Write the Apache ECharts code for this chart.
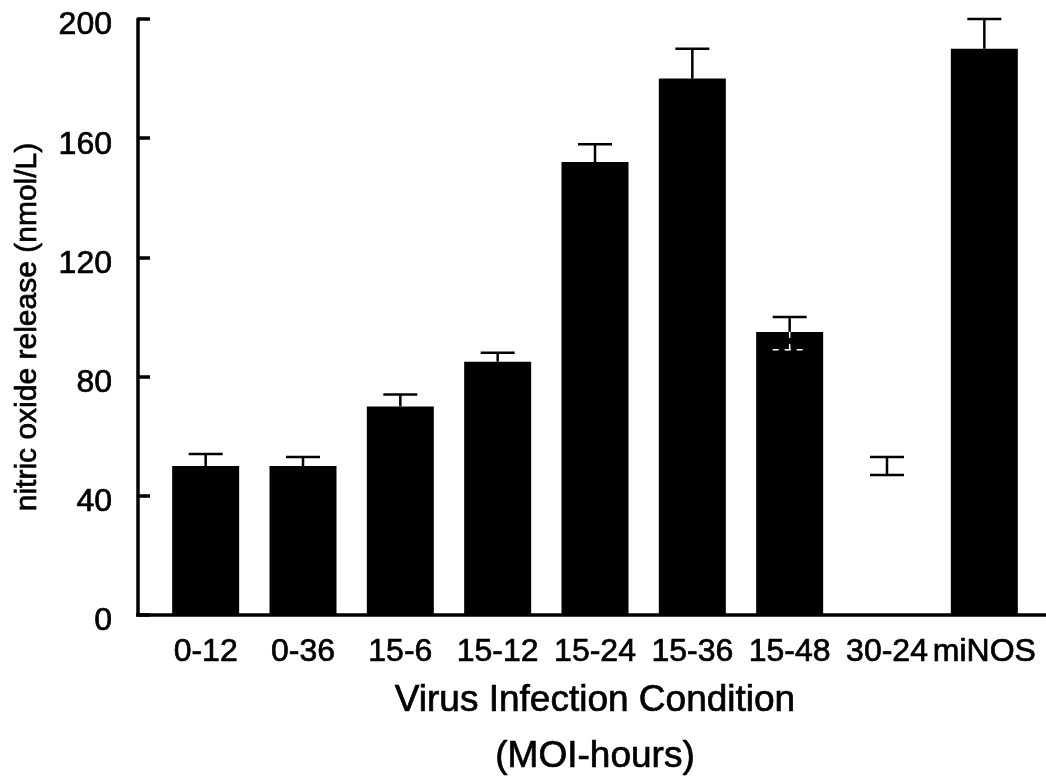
<!DOCTYPE html>
<html>
<head>
<meta charset="utf-8">
<script src="https://cdn.jsdelivr.net/npm/echarts@6/dist/echarts.min.js"></script>
<style>
  html, body { margin: 0; padding: 0; background: #fff; }
  #chart { width: 1046px; height: 783px; }
</style>
</head>
<body>
<div id="chart"></div>
<script>
// values (nmol/L)
const categories = ['0-12', '0-36', '15-6', '15-12', '15-24', '15-36', '15-48', '30-24', 'miNOS'];
const means = [50, 50, 70, 85, 152, 180, 95, 50, 190];
const errHigh = [54, 53, 74, 88, 158, 190, 100, 53, 200];
const errLow = [null, null, null, null, null, null, 89, 47, null];
const yTicks = [0, 40, 80, 120, 160, 200];
// bar drawn without fill in the original
const unfilled = ['30-24'];

const FONT = "'Liberation Sans', Arial, Helvetica, sans-serif";
// slight stroke so the text looks as heavy as the scanned figure
const heavy = { textBorderColor: '#000', textBorderWidth: 0.7 };
const chart = echarts.init(document.getElementById('chart'));

const errData = categories.map((c, i) => [i, means[i], errHigh[i], errLow[i]]);

const option = {
  animation: false,
  backgroundColor: '#fff',
  grid: { left: 157, right: 13, top: 19, bottom: 168, outerBoundsMode: 'none', containLabel: false },
  xAxis: {
    type: 'category',
    data: categories,
    axisLine: { show: false },
    axisTick: { show: false },
    axisLabel: Object.assign({ color: '#000', fontSize: 32, fontFamily: FONT, margin: 21, interval: 0 }, heavy),
    name: 'Virus Infection Condition\n(MOI-hours)',
    nameLocation: 'middle',
    nameGap: 53,
    nameTextStyle: Object.assign({ color: '#000', fontSize: 37, fontFamily: FONT, lineHeight: 56 }, heavy)
  },
  yAxis: {
    type: 'value',
    min: yTicks[0],
    max: yTicks[yTicks.length - 1],
    interval: yTicks[1] - yTicks[0],
    offset: 19,
    axisLine: { show: true, lineStyle: { color: '#000', width: 3.5 } },
    axisTick: { show: true, inside: true, length: 12, lineStyle: { color: '#000', width: 3.5 } },
    splitLine: { show: false },
    axisLabel: {
      margin: 26,
      formatter: '{a|{value}}',
      rich: { a: Object.assign({ color: '#000', fontSize: 32, fontFamily: FONT, padding: [13, 0, 0, 0] }, heavy) }
    },
    name: 'nitric oxide release (nmol/L)',
    nameLocation: 'middle',
    nameRotate: 90,
    nameGap: 95,
    nameTextStyle: Object.assign({ color: '#000', fontSize: 30, fontFamily: FONT, padding: [0, 20, 0, 0] }, heavy)
  },
  series: [
    {
      type: 'bar',
      barWidth: 67,
      data: means.map((v, i) => ({
        value: v,
        itemStyle: { color: unfilled.includes(categories[i]) ? '#fff' : '#000' }
      }))
    },
    {
      type: 'custom',
      z: 5,
      data: errData,
      renderItem: function (params, api) {
        const i = api.value(0);
        const mid = api.coord([i, api.value(1)]);
        const hi = api.coord([i, api.value(2)]);
        const cap = 17;
        const black = { stroke: '#000', lineWidth: 2.5 };
        const children = [
          { type: 'line', shape: { x1: hi[0], y1: hi[1], x2: mid[0], y2: mid[1] }, style: black },
          { type: 'line', shape: { x1: hi[0] - cap, y1: hi[1], x2: hi[0] + cap, y2: hi[1] }, style: black }
        ];
        const lowVal = errLow[params.dataIndex];
        if (lowVal != null) {
          const lo = api.coord([i, lowVal]);
          const filled = !unfilled.includes(categories[params.dataIndex]);
          const st = filled ? { stroke: '#fff', lineWidth: 1.5, lineDash: [6, 6] } : black;
          children.push(
            { type: 'line', shape: { x1: mid[0], y1: mid[1], x2: lo[0], y2: lo[1] }, style: st },
            { type: 'line', shape: { x1: lo[0] - cap, y1: lo[1], x2: lo[0] + cap, y2: lo[1] }, style: st }
          );
        }
        return { type: 'group', children: children };
      }
    }
  ]
};

chart.setOption(option);

// baseline drawn across the full plot width like the original
const y0 = chart.convertToPixel({ yAxisIndex: 0 }, 0);
chart.setOption({
  graphic: [{
    type: 'line',
    shape: { x1: 136, y1: y0, x2: 1046, y2: y0 },
    style: { stroke: '#000', lineWidth: 3.5 },
    z: 10
  }]
});
</script>
</body>
</html>
